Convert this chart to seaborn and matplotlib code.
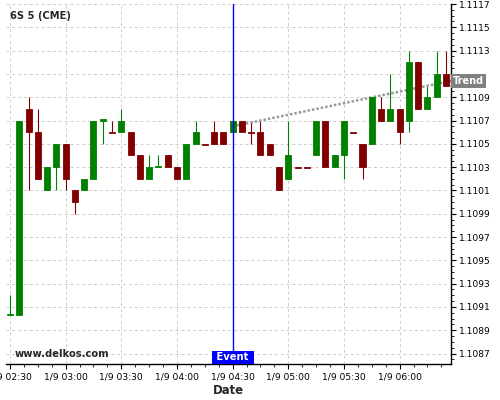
import matplotlib
matplotlib.use("Agg")
import matplotlib.pyplot as plt
import matplotlib.dates as mdates
import matplotlib.transforms as mtransforms
from matplotlib.ticker import FixedLocator, MultipleLocator, FuncFormatter, AutoMinorLocator
import pandas as pd
import seaborn as sns

# 5-minute candles, 1/9 02:30 .. 06:25
start = "2023-01-09 02:30:00"
opens = [1.10903, 1.10903, 1.1108, 1.1106, 1.1101, 1.1103, 1.1105, 1.1101,
         1.1101, 1.1102, 1.1107, 1.1106, 1.1106, 1.1106, 1.1104, 1.1102,
         1.1103, 1.1104, 1.1103, 1.1102, 1.1105, 1.1105, 1.1106, 1.1106,
         1.1106, 1.1107, 1.1106, 1.1106, 1.1105, 1.1103, 1.1102, 1.1103,
         1.1103, 1.1104, 1.1107, 1.1103, 1.1104, 1.1106, 1.1105, 1.1105,
         1.1108, 1.1107, 1.1108, 1.1107, 1.1112, 1.1108, 1.1109, 1.1111]
highs = [1.1092, 1.1107, 1.1109, 1.1108, 1.1103, 1.1105, 1.1105, 1.1101,
         1.1102, 1.1107, 1.1107, 1.1107, 1.1108, 1.1106, 1.1104, 1.1104,
         1.1104, 1.1104, 1.1103, 1.1105, 1.1107, 1.1105, 1.1107, 1.1106,
         1.1107, 1.1107, 1.1107, 1.1107, 1.1105, 1.1103, 1.1107, 1.1103,
         1.1103, 1.1107, 1.1107, 1.1104, 1.1107, 1.1106, 1.1105, 1.1109,
         1.1109, 1.1111, 1.1108, 1.1113, 1.1112, 1.1110, 1.1113, 1.1113]
lows = [1.10903, 1.10903, 1.1101, 1.1102, 1.1101, 1.1101, 1.1101, 1.1099,
        1.1101, 1.1102, 1.1105, 1.1106, 1.1106, 1.1104, 1.1102, 1.1102,
        1.1103, 1.1103, 1.1102, 1.1102, 1.1105, 1.1105, 1.1105, 1.1105,
        1.1106, 1.1106, 1.1105, 1.1104, 1.1104, 1.1101, 1.1102, 1.1103,
        1.1103, 1.1104, 1.1103, 1.1103, 1.1102, 1.1106, 1.1102, 1.1105,
        1.1107, 1.1107, 1.1105, 1.1106, 1.1108, 1.1108, 1.1109, 1.1110]
closes = [1.10904, 1.1107, 1.1106, 1.1102, 1.1103, 1.1105, 1.1102, 1.1100,
          1.1102, 1.1107, 1.11071, 1.11059, 1.1107, 1.1104, 1.1102, 1.1103,
          1.11031, 1.1103, 1.1102, 1.1105, 1.1106, 1.11049, 1.1105, 1.1105,
          1.1107, 1.1106, 1.11059, 1.1104, 1.1104, 1.1101, 1.1104, 1.11029,
          1.11029, 1.1107, 1.1103, 1.1104, 1.1107, 1.11059, 1.1103, 1.1109,
          1.1107, 1.1108, 1.1106, 1.1112, 1.1108, 1.1109, 1.1111, 1.1110]

y_ticks = [1.1087, 1.1089, 1.1091, 1.1093, 1.1095, 1.1097, 1.1099, 1.1101,
           1.1103, 1.1105, 1.1107, 1.1109, 1.1111, 1.1113, 1.1115, 1.1117]
# this tick label sits under the "Trend" tag in the reference
hidden_tick = 1.1111

event_time = "2023-01-09 04:30:00"
trend_times = ["2023-01-09 04:30:00", "2023-01-09 06:27:40"]
trend_values = [1.11065, 1.11104]

times = pd.date_range(start, periods=len(opens), freq="5min")
x = mdates.date2num(times.to_pydatetime())
ev_x = mdates.date2num(pd.Timestamp(event_time).to_pydatetime())
tr_x = [mdates.date2num(pd.Timestamp(t).to_pydatetime()) for t in trend_times]

colors = ["#008000" if c >= o else "#800000" for o, c in zip(opens, closes)]
bottoms = [min(o, c) for o, c in zip(opens, closes)]
heights = [abs(c - o) for o, c in zip(opens, closes)]

sns.set_style("white")
plt.rcParams["font.family"] = ["DejaVu Sans"]

fig = plt.figure(figsize=(5, 4), dpi=100)
ax = fig.add_axes([0.012, 0.09, 0.89, 0.90])

step = 5 / 1440
ax.vlines(x, lows, highs, colors=colors, lw=0.8, zorder=2)
sns.lineplot(x=tr_x, y=trend_values, ax=ax, color="#999999", lw=1.8,
             linestyle=(0, (1, 0.8)), zorder=2.5)
ax.bar(x, heights, width=0.65 * step, bottom=bottoms, color=colors,
       edgecolor=colors, linewidth=0.6, zorder=3)
ax.axvline(ev_x, color="blue", lw=1, zorder=4)

ax.set_xlim(x[0] - 0.43 * step, x[-1] + 0.54 * step)
ax.set_ylim(1.10861, 1.1117)

ax.xaxis.set_major_locator(mdates.MinuteLocator(byminute=[0, 30]))
ax.xaxis.set_minor_locator(AutoMinorLocator(4))
ax.xaxis.set_major_formatter(FuncFormatter(
    lambda v, p: "{0.month}/{0.day} {0:%H:%M}".format(mdates.num2date(v))))
ax.yaxis.tick_right()
ax.yaxis.set_major_locator(FixedLocator(y_ticks))
ax.yaxis.set_minor_locator(MultipleLocator(0.00005))
ax.yaxis.set_major_formatter(FuncFormatter(
    lambda v, p: "" if abs(v - hidden_tick) < 1e-7 else f"{v:.4f}"))
ax.tick_params(which="both", direction="out", color="black", labelsize=6.6,
               labelcolor="black")
ax.tick_params(which="major", length=3.5, width=0.8, pad=2.5)
ax.tick_params(which="minor", length=2, width=0.6)
ax.tick_params(axis="x", which="both", bottom=True)
ax.tick_params(axis="y", which="both", right=True, left=False)

ax.grid(True, which="major", ls=(0, (3, 3)), color="#cccccc", lw=0.7)
ax.set_axisbelow(True)
for side in ["top", "left"]:
    ax.spines[side].set_visible(False)
for side in ["right", "bottom"]:
    ax.spines[side].set_color("black")
    ax.spines[side].set_linewidth(1.0)

ax.set_xlabel("Date", fontsize=8.4, fontweight="bold", labelpad=2)
ax.set_ylabel("")

ax.text(0.009, 0.9675, "6S 5 (CME)", transform=ax.transAxes, fontsize=7.1,
        fontweight="bold", va="center", ha="left", zorder=6)
ax.text(0.02, 0.028, "www.delkos.com", transform=ax.transAxes, fontsize=7.2,
        fontweight="bold", va="center", ha="left", zorder=6)

blend = mtransforms.blended_transform_factory(ax.transData, ax.transAxes)
ax.text(ev_x, 0.019, " Event ", transform=blend, fontsize=7.2,
        fontweight="bold", color="white", ha="center", va="center", zorder=6,
        bbox=dict(boxstyle="square,pad=0.15", fc="blue", ec="none"))

blend_y = mtransforms.blended_transform_factory(ax.transAxes, ax.transData)
ax.text(1.004, trend_values[-1], "Trend", transform=blend_y, fontsize=7,
        fontweight="bold", color="white", ha="left", va="center", zorder=6,
        clip_on=False,
        bbox=dict(boxstyle="square,pad=0.22", fc="#808080", ec="none"))

fig.savefig("out.png", dpi=100)
